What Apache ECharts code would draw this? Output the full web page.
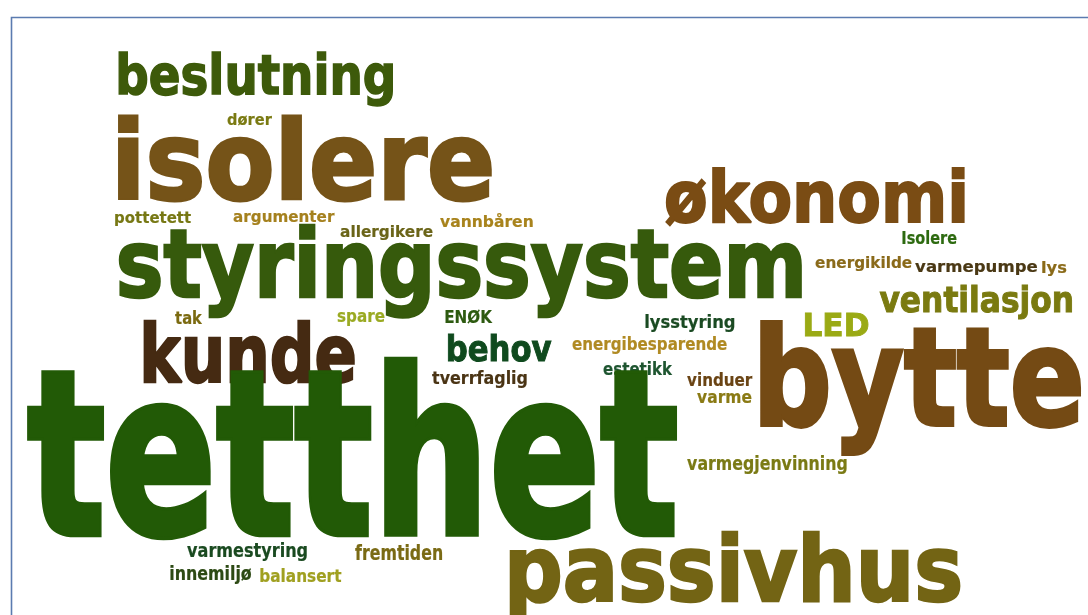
<!DOCTYPE html>
<html><head><meta charset="utf-8">
<script src="https://cdn.jsdelivr.net/npm/echarts@6/dist/echarts.min.js"></script>
<style>html,body{margin:0;padding:0;background:#fff}#c{width:1088px;height:615px}</style>
</head><body><div id="c"></div>
<script>
// Word list and word weights (weight = rendered x-height of the word)
const words = ['beslutning','isolere','dører','pottetett','argumenter','allergikere','vannbåren','styringssystem','økonomi','Isolere','energikilde','varmepumpe','lys','ventilasjon','LED','bytte','tak','spare','ENØK','kunde','behov','tverrfaglig','lysstyring','energibesparende','estetikk','vinduer','varme','tetthet','varmegjenvinning','passivhus','varmestyring','fremtiden','innemiljø','balansert'];
const weights = [32,63,9,8.5,8.5,8.5,8.5,55,41.5,10,8.5,9,8.5,21,18.8,78,10,10,10,46.5,20.5,9.5,10,9.5,10,9.5,10,132,11,53,10.5,11.5,10.5,10];
// Cloud layout (word centre, baseline, ink width) in the cloud's coordinate space
const layoutX = [255.5,305,249.5,153,284,386.5,486.5,460,815,929.5,863.5,976.5,1054.5,976,836.5,920.5,189,361,469,249,499.5,479.5,690,649.5,638,720,724.5,352,767,735,247,398.5,211,301];
const layoutY = [95,201,125,223.5,222,237,227,298,223,244,268.5,272,273.5,313,336.7,427,324,322,323.3,383,362,384.5,328.5,350,375,386,402.7,537,470,602,557.5,560,580,581.7];
const layoutW = [275,374,45,76,102,93,93,684,300,55,97,123,25,194,65,321,28,48,48,212,105,95,90,155,70,66,55,650,160,452,120,87,82,82];
const colors = ['#3d5a0a','#755318','#7a7a12','#777814','#a5811e','#6a6418','#a8831c','#365a0c','#7a4c14','#2d6a10','#8a6a1a','#4a3814','#8a6a18','#7a7a10','#9aaa14','#744a14','#7b6a10','#9aaa22','#2d5a10','#452a12','#0f4a1e','#4a3414','#1a4a22','#b08a22','#1e5530','#6a4414','#8a7a14','#225a06','#7a7a14','#736414','#1a4a20','#7a6a14','#2d4a14','#a0a020'];

const FAMILY = '"DejaVu Sans"';
const STROKE_K = 0.028; // extra weight (em) to mimic the heavy rounded face
const mc = document.createElement('canvas').getContext('2d');
function fontStr(sz){ return 'bold ' + sz + 'px ' + FAMILY; }
mc.font = fontStr(100);
mc.textBaseline = 'alphabetic';
const xRatio = mc.measureText('x').actualBoundingBoxAscent / 100;
mc.textBaseline = 'middle';
const midRatio = mc.measureText('x').actualBoundingBoxDescent / 100;
mc.textBaseline = 'alphabetic';

const data = words.map((w, i) => ({ name: w, value: [layoutX[i], layoutY[i], layoutW[i], weights[i]], itemStyle: { color: colors[i] } }));

const chart = echarts.init(document.getElementById('c'), null, { renderer: 'canvas' });
chart.setOption({
  animation: false,
  backgroundColor: '#ffffff',
  grid: { left: 0, right: 0, top: 0, bottom: 0 },
  xAxis: { type: 'value', min: 0, max: 1088, show: false },
  yAxis: { type: 'value', min: 0, max: 615, inverse: true, show: false },
  graphic: [{
    type: 'rect', left: 9, top: 15, z: -1, silent: true,
    shape: { width: 1200, height: 700 },
    style: { fill: 'none', stroke: '#5b7bb0', lineWidth: 1.6 }
  }],
  series: [{
    type: 'custom',
    coordinateSystem: 'cartesian2d',
    data: data,
    renderItem: function (params, api) {
      const i = params.dataIndex;
      const p = api.coord([api.value(0), api.value(1)]);
      const sz = api.size([api.value(2), api.value(3)]);
      const W = Math.abs(sz[0]), xh = Math.abs(sz[1]);
      const k = xh > 15 ? STROKE_K : STROKE_K * 0.4;
      const fontSize = xh / (xRatio + k);
      const sw = k * fontSize;
      mc.font = fontStr(fontSize);
      const m = mc.measureText(words[i]);
      const inkW = m.actualBoundingBoxLeft + m.actualBoundingBoxRight + sw;
      const s = W / inkW;
      const left = p[0] - W / 2;
      return {
        type: 'text',
        x: left + s * (m.actualBoundingBoxLeft + sw / 2),
        y: p[1] - sw / 2 - midRatio * fontSize,
        scaleX: s,
        scaleY: 1,
        style: {
          text: words[i],
          x: 0, y: 0,
          fill: colors[i],
          stroke: colors[i],
          lineWidth: sw,
          lineJoin: 'round',
          font: fontStr(fontSize),
          fontSize: fontSize,
          fontWeight: 'bold',
          fontFamily: 'DejaVu Sans',
          align: 'left', verticalAlign: 'middle',
          textAlign: 'left', textVerticalAlign: 'middle'
        }
      };
    }
  }]
});
</script>
</body></html>
